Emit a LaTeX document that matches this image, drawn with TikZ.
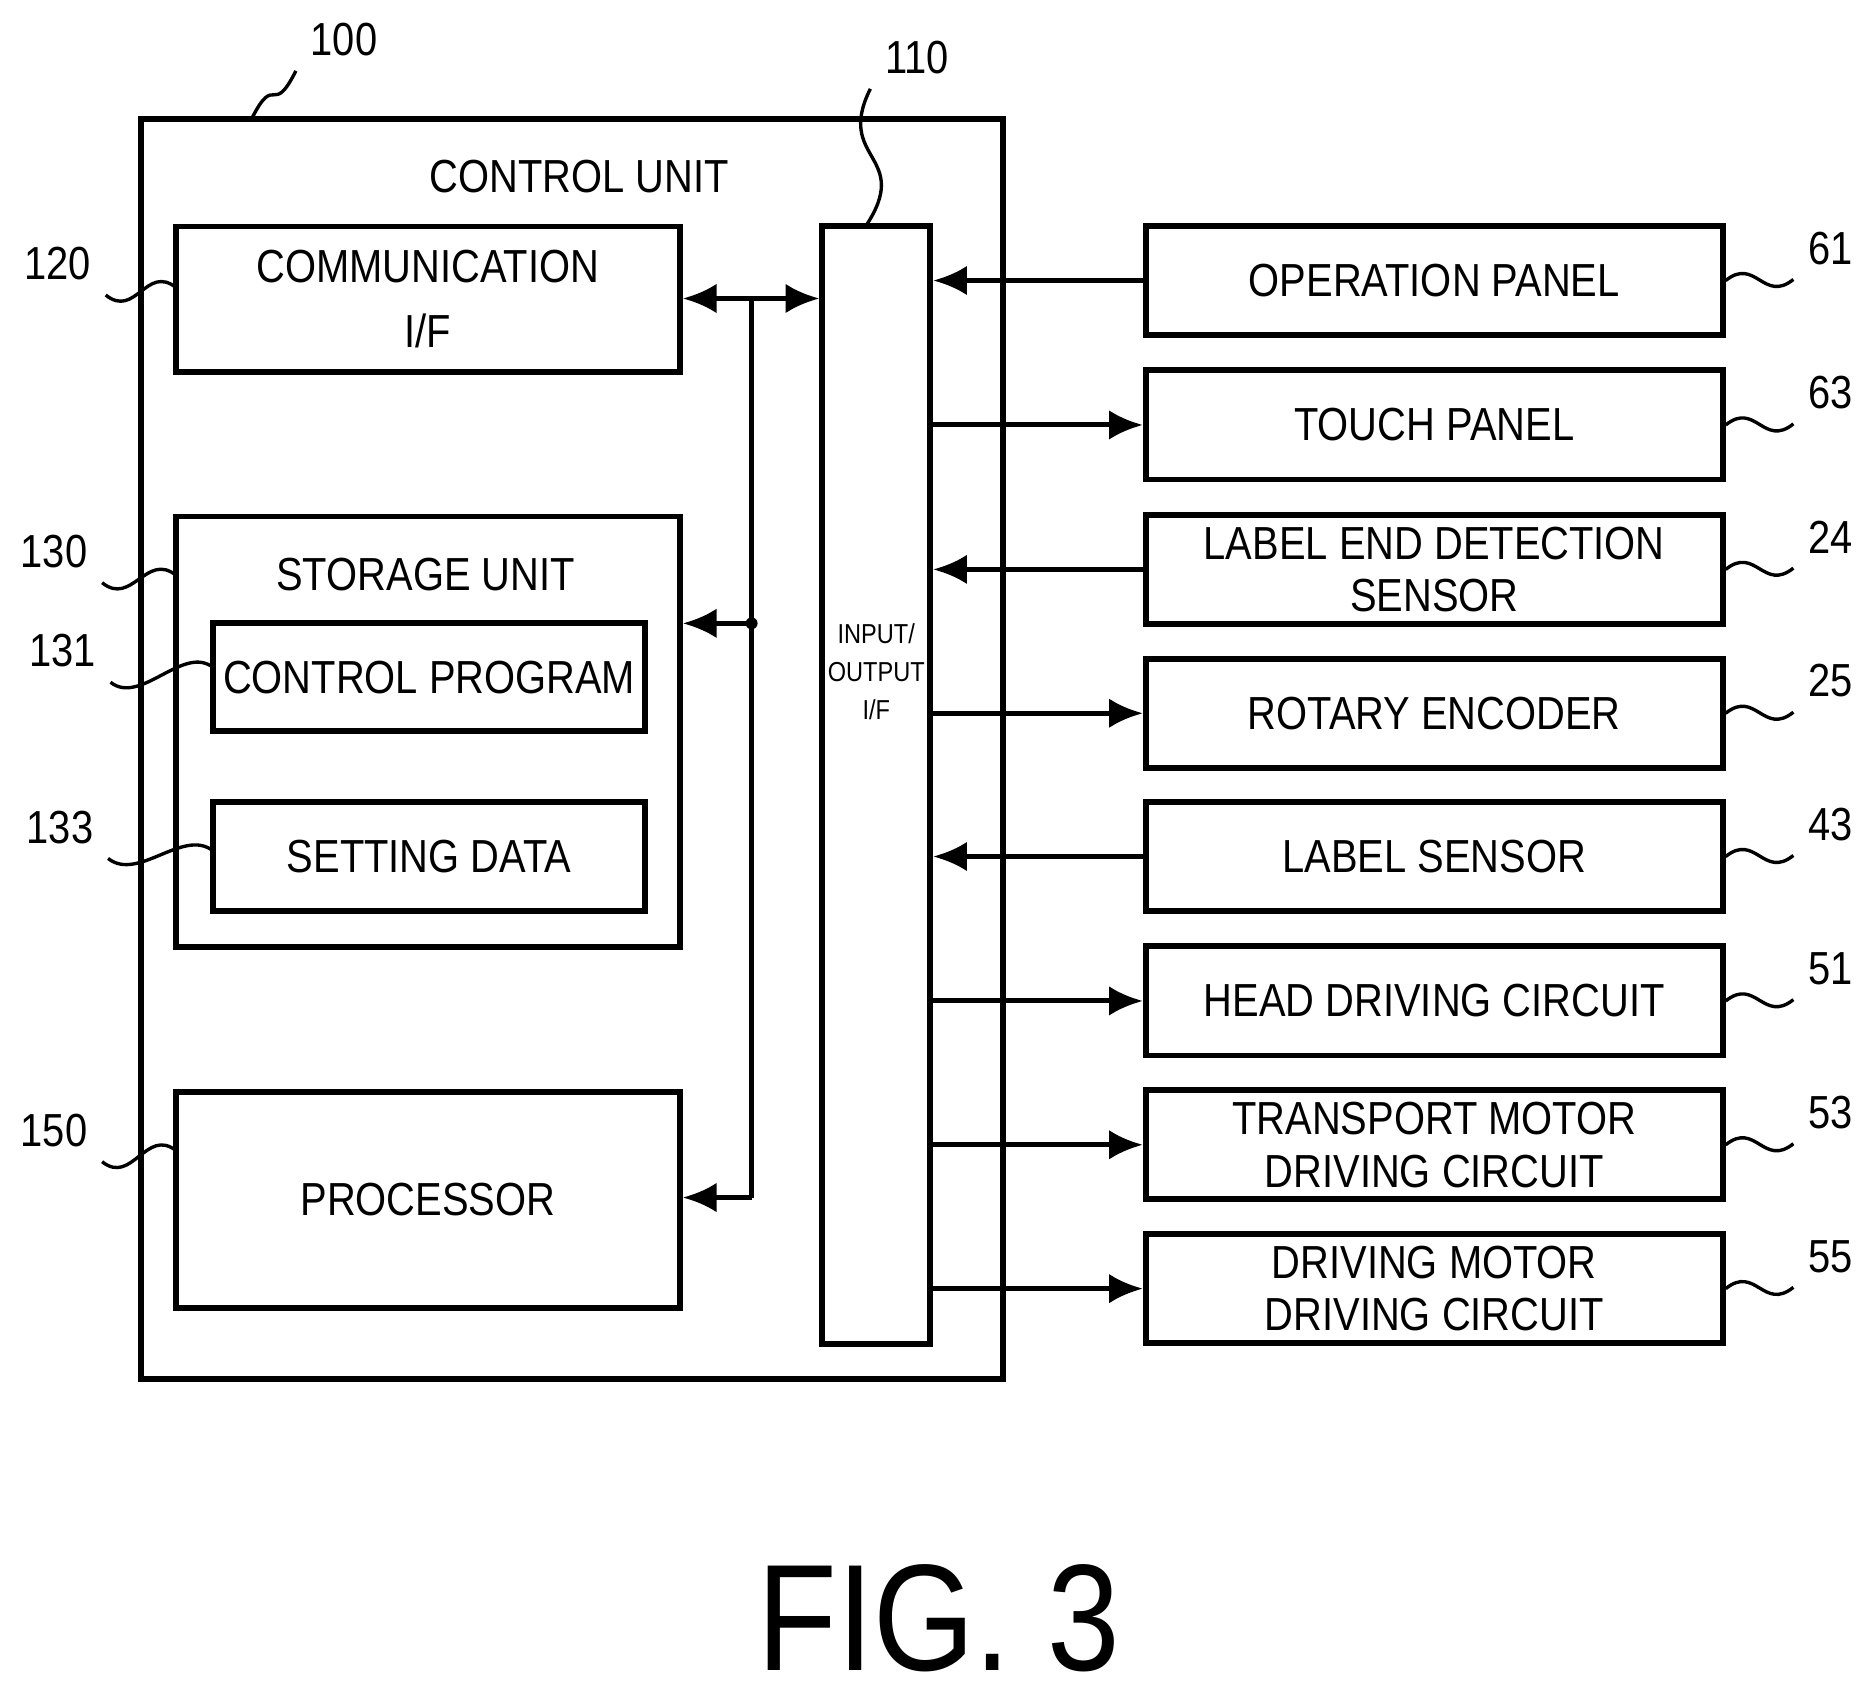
\documentclass[tikz,border=0pt]{standalone}
\usepackage{fontspec}
\setmainfont{Liberation Sans}[FakeStretch=0.86]
\usetikzlibrary{calc,arrows.meta}
\begin{document}
\begin{tikzpicture}[x=0.01cm,y=-0.01cm,
  box/.style={draw,line width=1.4pt,align=center,font=\fontsize{11}{12.5}\selectfont,inner sep=0pt},
  arr/.style={line width=1.2pt,-{Latex[length=8pt,width=7pt]}},
  lab/.style={font=\fontsize{11}{13}\selectfont},
  lead/.style={line width=0.8pt}]
\useasboundingbox (0,0) rectangle (1560,1417);
% control unit
\draw[line width=1.4pt] (118,99) rectangle (837,1150);
\node[lab] (cu) at (483,147) {CONTROL UNIT};
\node[box,minimum width=4.2cm,minimum height=1.21cm] (comm) at (357,249.5) {COMMUNICATION\\[3pt]I/F};
\node[box,minimum width=4.2cm,minimum height=3.59cm] (stor) at (357,610.5) {};
\node[lab] (storl) at (355,479) {STORAGE UNIT};
\node[box,minimum width=3.6cm,minimum height=0.9cm] (cp) at (358,565) {CONTROL PROGRAM};
\node[box,minimum width=3.6cm,minimum height=0.91cm] (sd) at (358,714.5) {SETTING DATA};
\node[box,minimum width=4.2cm,minimum height=1.8cm] (proc) at (357,1001) {PROCESSOR};
\node[box,minimum width=0.9cm,minimum height=9.32cm] (io) at (731,655) {};
\node[font=\fontsize{6.5}{9}\selectfont,align=center] (iol) at (731,560) {INPUT/\\OUTPUT\\I/F};
% bus
\coordinate (b1) at (627,249);
\coordinate (b2) at (627,520);
\coordinate (b3) at (627,999);
\draw[line width=1.2pt,{Latex[length=8pt,width=7pt]}-{Latex[length=8pt,width=7pt]}] (comm.east|-b1) -- (io.west|-b1);
\draw[line width=1.2pt] (b1) -- (b3);
\fill (b2) circle (5);
\draw[arr] (b2) -- (stor.east|-b2);
\draw[arr] (b3) -- (proc.east|-b3);
% right boxes
\foreach \n/\y/\t/\r/\d in {
 op/234/OPERATION PANEL/61/0,
 tp/354.5/TOUCH PANEL/63/1,
 le/475/LABEL END DETECTION\\SENSOR/24/0,
 re/595/ROTARY ENCODER/25/1,
 ls/714.5/LABEL SENSOR/43/0,
 hd/835/HEAD DRIVING CIRCUIT/51/1,
 tm/955/TRANSPORT MOTOR\\DRIVING CIRCUIT/53/1,
 dm/1075/DRIVING MOTOR\\DRIVING CIRCUIT/55/1}{
  \node[box,minimum width=4.81cm,minimum height=0.91cm] (\n) at (1196.5,\y) {\t};
  \ifnum\d=1
    \draw[arr] (io.east|-\n) -- (\n.west);
  \else
    \draw[arr] (\n.west) -- (io.east|-\n);
  \fi
  \node[lab] (r\n) at (1527,\y-27) {\r};
  \draw[lead] (\n.east) .. controls +(25,-20) and +(-25,20) .. (r\n.south west);
}
% left leaders
\foreach \t/\x/\y/\tx/\ty in {120/48/220/147/240, 130/45/460/147/480, 131/52/543/178/557, 133/50/690/178/710, 150/45/943/147/960}{
  \node[lab] (l\t) at (\x,\y) {\t};
  \coordinate (e\t) at (\tx,\ty);
  \draw[lead] (l\t.south east) .. controls +(25,20) and +(-25,-20) .. (e\t);
}
\node[lab] (l100) at (287,33) {100};
\coordinate (e100) at (210,99);
\draw[lead] (l100.south west) .. controls +(-20,40) and +(20,-40) .. (e100);
\node[lab] (l110) at (765,48) {110};
\coordinate (e110) at (722,189);
\draw[lead] (l110.south west) .. controls +(-30,60) and +(40,-60) .. (e110);
\node[font=\fontsize{36}{42}\selectfont] (fig) at (783,1350) {FIG. 3};
\end{tikzpicture}
\end{document}
